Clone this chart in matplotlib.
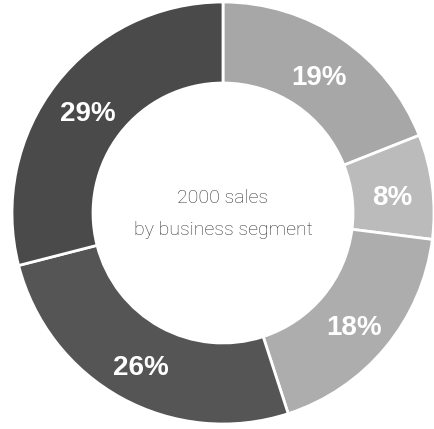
import matplotlib.pyplot as plt
import numpy as np

segments = ["A", "B", "C", "D", "E"]
shares = [19, 8, 18, 26, 29]
labels = ["19%", "8%", "18%", "26%", "29%"]
colors = ["#a7a7a7", "#bbbbbb", "#adadad", "#555555", "#4a4a4a"]

title_lines = ["2000 sales", "by business segment"]

# pixel geometry of the ring
W, H = 435, 429
CX, CY = 223, 213
R_OUT = 211
R_IN = 130

fig = plt.figure(figsize=(W / 100, H / 100), dpi=100)
ax = fig.add_axes([0, 0, 1, 1])

wedges, _ = ax.pie(
    shares,
    colors=colors,
    startangle=90,
    counterclock=False,
    radius=1.0,
    wedgeprops=dict(width=(R_OUT - R_IN) / R_OUT, edgecolor="white", linewidth=2),
)

# percentage labels sit in the middle of the ring, nudged a little down
r_lab = (R_OUT + R_IN) / 2 / R_OUT
dy = -6 / R_OUT
for w, lab in zip(wedges, labels):
    ang = np.deg2rad((w.theta1 + w.theta2) / 2)
    ax.text(r_lab * np.cos(ang), r_lab * np.sin(ang) + dy, lab,
            ha="center", va="center", color="white",
            fontsize=20, fontweight="bold",
            family=["Liberation Sans", "DejaVu Sans"])

# two-line caption in the hole
for i, line in enumerate(title_lines):
    ax.text(0, (CY - 203 - 32 * i) / R_OUT, line, ha="center", va="baseline",
            color="#333333", fontsize=14, fontweight="light",
            family=["Roboto", "DejaVu Sans"])

ax.set_xlim(-CX / R_OUT, (W - CX) / R_OUT)
ax.set_ylim(-(H - CY) / R_OUT, CY / R_OUT)
ax.set_aspect("equal")
ax.axis("off")

fig.savefig("out.png", dpi=100, facecolor="white")
